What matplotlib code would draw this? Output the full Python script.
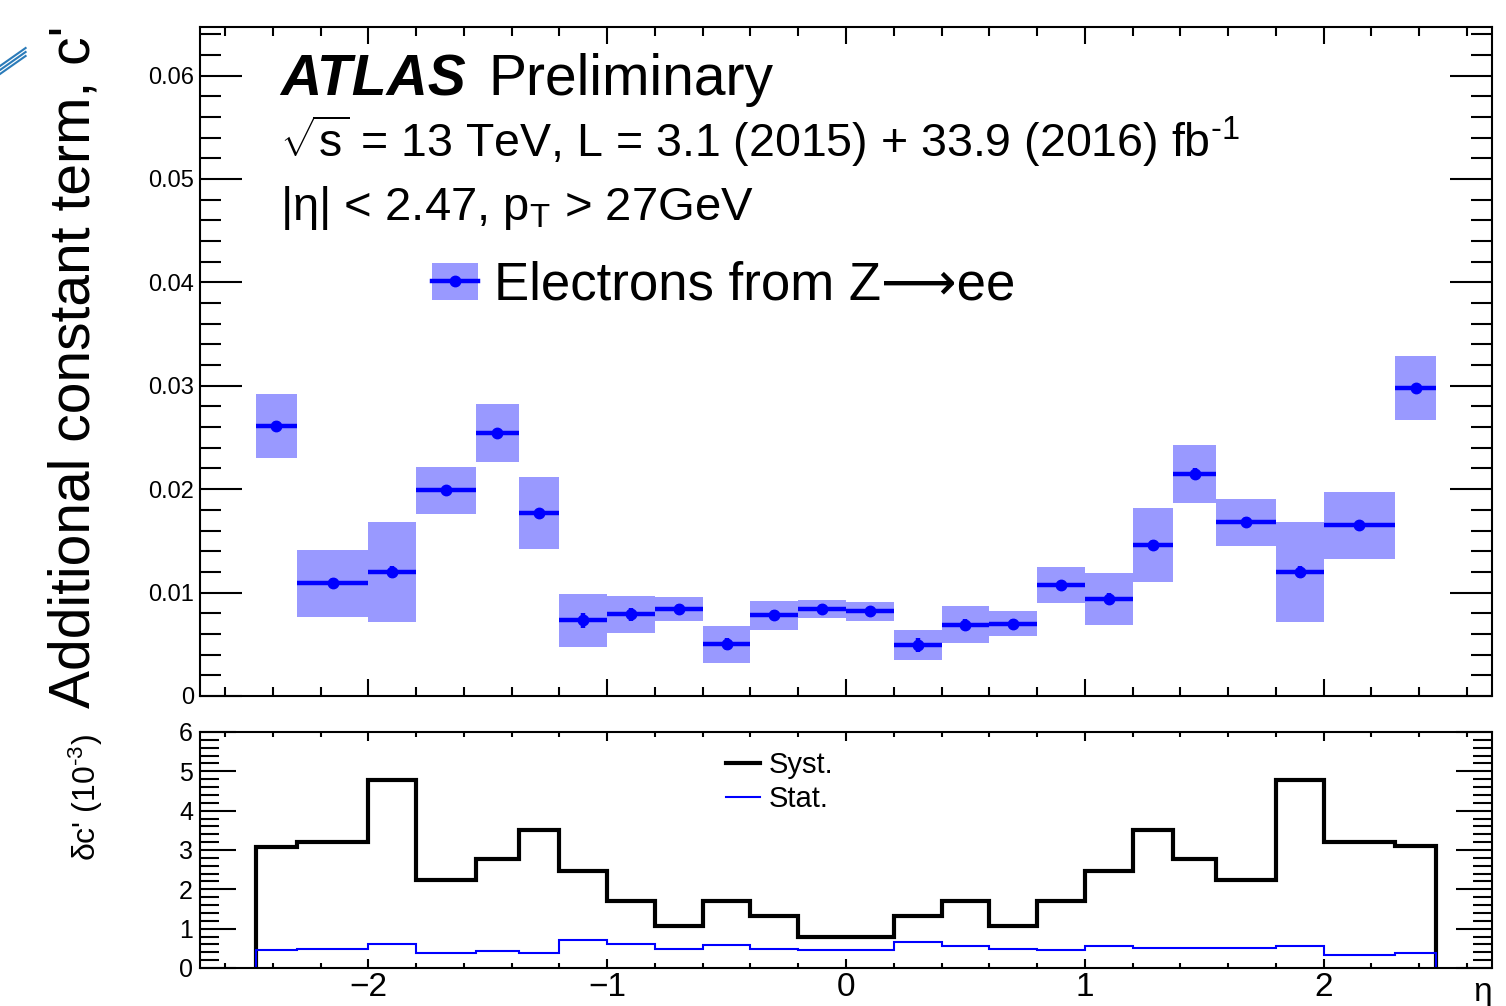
import matplotlib
matplotlib.use('Agg')
import matplotlib.pyplot as plt
import numpy as np
from matplotlib.patches import Patch
from matplotlib.lines import Line2D
from matplotlib.ticker import MultipleLocator, FuncFormatter

plt.rcParams['font.family'] = ['Liberation Sans', 'DejaVu Sans']
plt.rcParams['mathtext.fontset'] = 'custom'
plt.rcParams['mathtext.rm'] = 'Liberation Sans'
plt.rcParams['mathtext.it'] = 'Liberation Sans:italic'
plt.rcParams['mathtext.bf'] = 'Liberation Sans:bold'

# eta bin edges
edges = np.array([-2.47, -2.3, -2.0, -1.8, -1.55, -1.37, -1.2, -1.0, -0.8, -0.6, -0.4, -0.2, 0.0,
                  0.2, 0.4, 0.6, 0.8, 1.0, 1.2, 1.37, 1.55, 1.8, 2.0, 2.3, 2.47])

# additional constant term c'
cprime = np.array([0.0261, 0.0109, 0.0120, 0.0199, 0.0254, 0.0177, 0.0073, 0.0079,
                   0.0084, 0.0050, 0.0078, 0.0084, 0.0082, 0.0049, 0.0069, 0.0070,
                   0.0107, 0.0094, 0.0146, 0.0215, 0.0168, 0.0120, 0.0165, 0.0298])

# uncertainties in units of 1e-3
syst = np.array([3.08, 3.21, 4.77, 2.24, 2.77, 3.50, 2.47, 1.69, 1.07, 1.70, 1.31, 0.79,
                 0.79, 1.31, 1.70, 1.07, 1.70, 2.47, 3.50, 2.77, 2.24, 4.77, 3.21, 3.10])
stat = np.array([0.45, 0.49, 0.61, 0.38, 0.44, 0.39, 0.72, 0.61, 0.49, 0.59, 0.49, 0.45,
                 0.45, 0.66, 0.55, 0.49, 0.45, 0.55, 0.50, 0.50, 0.50, 0.55, 0.33, 0.38])

centers = 0.5 * (edges[1:] + edges[:-1])
widths = edges[1:] - edges[:-1]
tot = np.hypot(syst, stat) * 1e-3

fill_col = '#9999ff'

fig = plt.figure(figsize=(15.06, 10.06), dpi=100)
ax = fig.add_axes([0.1328, 0.3082, 0.8579, 0.665])
ax2 = fig.add_axes([0.1328, 0.0378, 0.8579, 0.2346])

# upper panel
ax.bar(centers, 2 * tot, bottom=cprime - tot, width=widths, color=fill_col, linewidth=0)
ax.errorbar(centers, cprime, xerr=widths / 2, yerr=stat * 1e-3, fmt='o', color='blue',
            ms=7.5, elinewidth=3.2, capsize=0)
ax.set_xlim(-2.705, 2.705)
ax.set_ylim(0, 0.0647)
ax.xaxis.set_major_locator(MultipleLocator(1))
ax.xaxis.set_minor_locator(MultipleLocator(0.2))
ax.yaxis.set_major_locator(MultipleLocator(0.01))
ax.yaxis.set_minor_locator(MultipleLocator(0.002))
ax.yaxis.set_major_formatter(FuncFormatter(lambda v, p: '0' if abs(v) < 1e-9 else '%.2f' % v))
ax.tick_params(which='both', direction='in', top=True, right=True, width=1.5, labelbottom=False)
ax.tick_params(axis='y', which='major', length=30, labelsize=17, pad=4)
ax.tick_params(axis='y', which='minor', length=15)
ax.tick_params(axis='x', which='major', length=12)
ax.tick_params(axis='x', which='minor', length=6.5)
for s in ax.spines.values():
    s.set_linewidth(1.5)
ax.set_ylabel("Additional constant term, c'", fontsize=41, va='center')
ax.yaxis.set_label_coords(-0.0975, 0.492)

handle = (Patch(facecolor=fill_col), Line2D([], [], color='blue', lw=3.2, marker='o', ms=7.5))
ax.legend([handle], ['Electrons from Z\u27f6ee'], loc='center left',
          bbox_to_anchor=(432 / 1506, 1 - 286 / 1006), bbox_transform=fig.transFigure,
          frameon=False, fontsize=38, borderpad=0, borderaxespad=0,
          handlelength=0.87, handleheight=0.72, handletextpad=0.3)

fig.text(280 / 1506, 1 - 95 / 1006, 'ATLAS', fontsize=41, fontweight='bold', fontstyle='italic',
         va='baseline')
fig.text(488 / 1506, 1 - 95 / 1006, 'Preliminary', fontsize=41, va='baseline')
fig.text(280 / 1506, 1 - 157 / 1006,
         r'$\sqrt{\mathrm{s}}$ = 13 TeV, L = 3.1 (2015) + 33.9 (2016) fb$^{\text{-1}}$',
         fontsize=33.5, va='baseline')
fig.text(280 / 1506, 1 - 220 / 1006, r'|η| < 2.47, p$_{\mathrm{T}}$ > 27GeV',
         fontsize=34, va='baseline')

# lower panel
ax2.stairs(syst, edges, color='black', lw=3, baseline=0, label='Syst.')
ax2.stairs(stat, edges, color='blue', lw=1.5, baseline=0, label='Stat.')
ax2.set_xlim(-2.705, 2.705)
ax2.set_ylim(0, 6)
ax2.xaxis.set_major_locator(MultipleLocator(1))
ax2.xaxis.set_minor_locator(MultipleLocator(0.2))
ax2.yaxis.set_major_locator(MultipleLocator(1))
ax2.yaxis.set_minor_locator(MultipleLocator(0.2))
ax2.tick_params(which='both', direction='in', top=True, right=True, width=1.5)
ax2.tick_params(axis='y', which='major', length=26, labelsize=18, pad=5)
ax2.tick_params(axis='y', which='minor', length=13.5)
ax2.tick_params(axis='x', which='major', length=6.5, labelsize=24, pad=3)
ax2.tick_params(axis='x', which='minor', length=3.5)
for s in ax2.spines.values():
    s.set_linewidth(1.5)
ax2.set_ylabel("δc' (10$^{\\text{-3}}$)", fontsize=23, va='center')
ax2.yaxis.set_label_coords(-0.088, 0.72)
ax2.set_xlabel('η', fontsize=24, loc='right')
ax2.xaxis.set_label_coords(1.0, -0.04)

ax2.legend(loc='center left', bbox_to_anchor=(726 / 1506, 1 - 782 / 1006),
           bbox_transform=fig.transFigure, frameon=False, fontsize=21, borderpad=0,
           borderaxespad=0, handlelength=1.15, handletextpad=0.3, labelspacing=0.2,
           handles=[Line2D([], [], color='black', lw=3), Line2D([], [], color='blue', lw=1.5)],
           labels=['Syst.', 'Stat.'])

# stray blue strokes at the top-left corner of the source image
for dy in (0, 4, 8):
    fig.add_artist(Line2D([0.0, 0.017], [1 - (66 + dy) / 1006, 1 - (48 + dy) / 1006],
                          transform=fig.transFigure, color='#2b7bb9', lw=1.5))

fig.savefig('out.png', dpi=100)
